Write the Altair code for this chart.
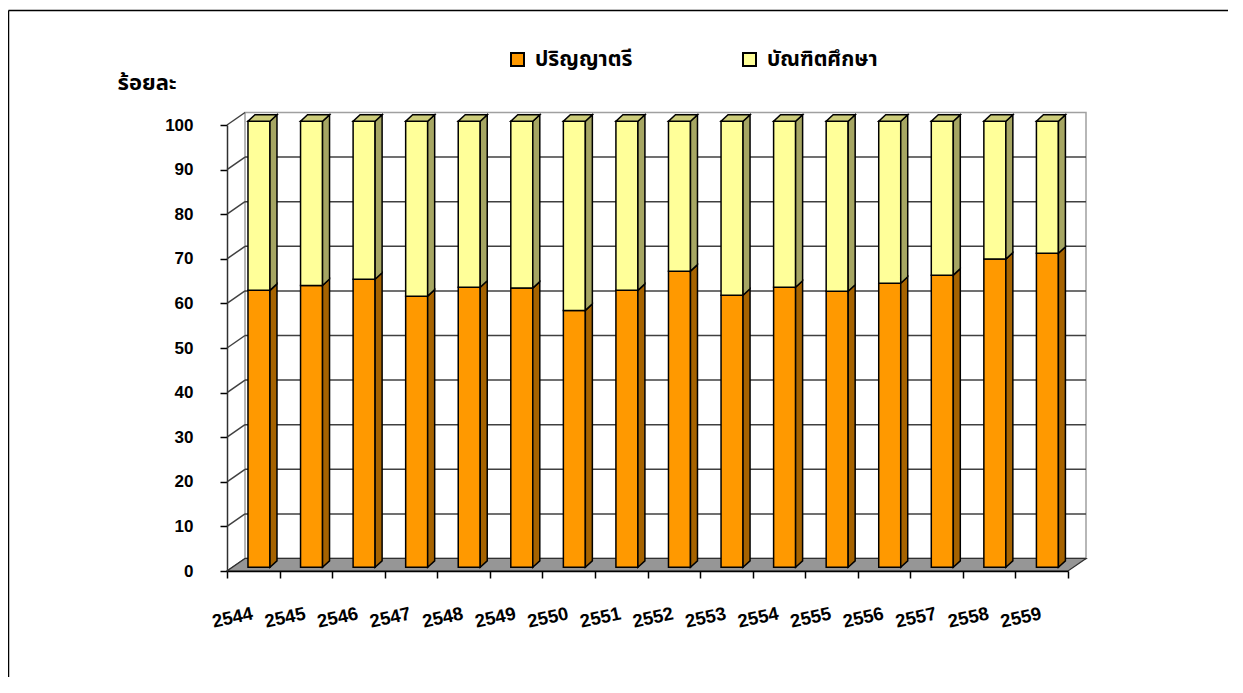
import json
import altair as alt
import pandas as pd

# ---------------- data ----------------
years = ["2544", "2545", "2546", "2547", "2548", "2549", "2550", "2551",
         "2552", "2553", "2554", "2555", "2556", "2557", "2558", "2559"]
bachelor = [62.1, 63.2, 64.6, 60.8, 62.8, 62.6, 57.6, 62.1,
            66.4, 61.0, 62.8, 61.9, 63.7, 65.5, 69.1, 70.4]
graduate = [37.9, 36.8, 35.4, 39.2, 37.2, 37.4, 42.4, 37.9,
            33.6, 39.0, 37.2, 38.1, 36.3, 34.5, 30.9, 29.6]
series_names = ["ปริญญาตรี", "บัณฑิตศึกษา"]
y_ticks = list(range(0, 101, 10))

# ---------------- style / 3-D geometry (data units) ----------------
N = len(years)
W, H = 841, 446
FRONT = ["#FF9900", "#FFFF99"]
SIDE = ["#A66300", "#A6A663"]
TOP = "#CCCC7A"
WALL_DX, WALL_DY = 18 / (W / N), 12.5 / (H / 100)
BAR_OX, BAR_OY = 0.5 + 5.7 / (W / N), 3.7 / (H / 100)
BAR_HW = 11 / (W / N)
SIDE_DX, SIDE_DY = 7 / (W / N), 6.5 / (H / 100)
THAI = "Tahoma, Noto Sans Thai, Loma, Garuda, Norasi, Waree, DejaVu Sans, sans-serif"
LATIN = "Liberation Sans"

front_rows, side_rows, top_rows = [], [], []
for i in range(N):
    xl, xr = i + BAR_OX - BAR_HW, i + BAR_OX + BAR_HW
    segs = [(0, bachelor[i]), (bachelor[i], bachelor[i] + graduate[i])]
    for s, (lo, hi) in enumerate(segs):
        front_rows.append(dict(series=series_names[s], x=xl, x2=xr,
                               y=lo + BAR_OY, y2=hi + BAR_OY))
        fid = f"{s}-{i}"
        side_rows.append(dict(series=series_names[s], face=fid, x=xr,
                              y=lo + BAR_OY, y2=hi + BAR_OY))
        side_rows.append(dict(series=series_names[s], face=fid, x=xr + SIDE_DX,
                              y=lo + BAR_OY + SIDE_DY, y2=hi + BAR_OY + SIDE_DY))
    T = segs[-1][1] + BAR_OY
    fid = f"t-{i}"
    top_rows += [dict(face=fid, x=xl, y=T, y2=T),
                 dict(face=fid, x=xl + SIDE_DX, y=T, y2=T + SIDE_DY),
                 dict(face=fid, x=xr, y=T, y2=T + SIDE_DY),
                 dict(face=fid, x=xr + SIDE_DX, y=T + SIDE_DY, y2=T + SIDE_DY)]

front_df = pd.DataFrame(front_rows)
side_df = pd.DataFrame(side_rows)
top_df = pd.DataFrame(top_rows)

grid_df = pd.DataFrame({"v": y_ticks})
wall_df = pd.DataFrame([dict(x=WALL_DX, x2=N + WALL_DX, y=WALL_DY, y2=100 + WALL_DY)])
floor_df = pd.DataFrame([dict(x=0, y=0, y2=0), dict(x=WALL_DX, y=0, y2=WALL_DY),
                         dict(x=N, y=0, y2=WALL_DY), dict(x=N + WALL_DX, y=WALL_DY, y2=WALL_DY)])

xs = alt.Scale(domain=[0, N], nice=False, zero=False)
ys = alt.Scale(domain=[0, 100], nice=False, zero=False)

x_axis = alt.Axis(values=list(range(N + 1)),
                  labelExpr=f"datum.value < {N} ? {json.dumps(years)}[datum.value] : ''",
                  labelOffset=W / N / 2 - 3, labelAngle=348, labelAlign="right",
                  labelBaseline="top", labelPadding=26, tickSize=7, tickColor="black",
                  tickWidth=1.5, domainColor="black", domainWidth=1.5,
                  labelFont=LATIN, labelFontSize=18.5, labelFontWeight="bold",
                  labelColor="black", title=None, grid=False, labelFlush=False,
                  labelOverlap=False, zindex=2)
y_axis = alt.Axis(values=y_ticks, tickSize=7, tickColor="black", tickWidth=1.5,
                  domainColor="#303030", domainWidth=1.5, labelPadding=27,
                  labelFont=LATIN, labelFontSize=17, labelFontWeight="bold",
                  labelColor="black", grid=False, zindex=2,
                  title="ร้อยละ", titleAngle=0, titleAlign="left", titleBaseline="middle",
                  titleX=-110, titleY=-43, titleFont=THAI, titleFontSize=22,
                  titleFontWeight="bold", titleColor="black")


def X(field):
    return alt.X(field, scale=xs, axis=x_axis)


def Y(field):
    return alt.Y(field, scale=ys, axis=y_axis)


legend = alt.Legend(orient="none", legendX=280, legendY=-76, direction="horizontal",
                    title=None, symbolType="square", symbolSize=169,
                    symbolStrokeColor="black", symbolStrokeWidth=2,
                    labelFont=THAI, labelFontSize=21, labelFontWeight="bold",
                    labelColor="black", labelOffset=7, columnPadding=106, padding=0,
                    symbolOpacity=1)

one = pd.DataFrame({"a": [0]})
frame_left = alt.Chart(one).mark_rule(color="black", strokeWidth=1.5).encode(
    x=alt.value(-218.5), y=alt.value(-114.5), y2=alt.value(2000))
frame_top = alt.Chart(one).mark_rule(color="black", strokeWidth=1.5).encode(
    x=alt.value(-218.5), x2=alt.value(2000), y=alt.value(-114.5))

wall = alt.Chart(wall_df).mark_rect(fill="white", stroke="#A0A0A0", strokeWidth=1.5).encode(
    x=X("x:Q"), x2="x2", y=Y("y:Q"), y2="y2")

grid = alt.Chart(grid_df).transform_calculate(
    gx=f"{WALL_DX}", gx2=f"{N + WALL_DX}", gy=f"datum.v + {WALL_DY}"
).transform_filter("datum.v < 100").mark_rule(color="#404040", strokeWidth=1.5).encode(
    x=X("gx:Q"), x2="gx2:Q", y=Y("gy:Q"))

side_lines = alt.Chart(grid_df).transform_calculate(
    lx="0", lx2=f"{WALL_DX}", ly2=f"datum.v + {WALL_DY}"
).mark_rule(color="#404040", strokeWidth=1.5).encode(
    x=X("lx:Q"), x2="lx2:Q", y=Y("v:Q"), y2="ly2:Q")

floor = alt.Chart(floor_df).mark_area(fill="#969696", stroke="#303030", strokeWidth=1.2,
                                      opacity=1).encode(
    x=X("x:Q"), y=Y("y:Q"), y2="y2")

fronts = alt.Chart(front_df).mark_rect(stroke="black", strokeWidth=1.5, opacity=1).encode(
    x=X("x:Q"), x2="x2", y=Y("y:Q"), y2="y2",
    color=alt.Color("series:N", scale=alt.Scale(domain=series_names, range=FRONT),
                    legend=legend))

sides = []
for s in range(2):
    sides.append(alt.Chart(side_df).transform_filter(
        alt.datum.series == series_names[s]).mark_area(
        fill=SIDE[s], stroke="black", strokeWidth=1.5, opacity=1).encode(
        x=X("x:Q"), y=Y("y:Q"), y2="y2", detail="face:N"))

tops = alt.Chart(top_df).mark_area(fill=TOP, stroke="black", strokeWidth=1.5,
                                   opacity=1).encode(
    x=X("x:Q"), y=Y("y:Q"), y2="y2", detail="face:N")

chart = alt.layer(frame_left, frame_top, wall, grid, side_lines, floor, fronts,
                  *sides, tops).properties(
    width=W, height=H,
    autosize=alt.AutoSizeParams(type="none"),
    padding={"left": 219, "top": 117, "right": 160, "bottom": 106},
    background="white",
).configure_view(stroke=None)

chart.save("out.html", embed_options={"renderer": "svg", "actions": False})
